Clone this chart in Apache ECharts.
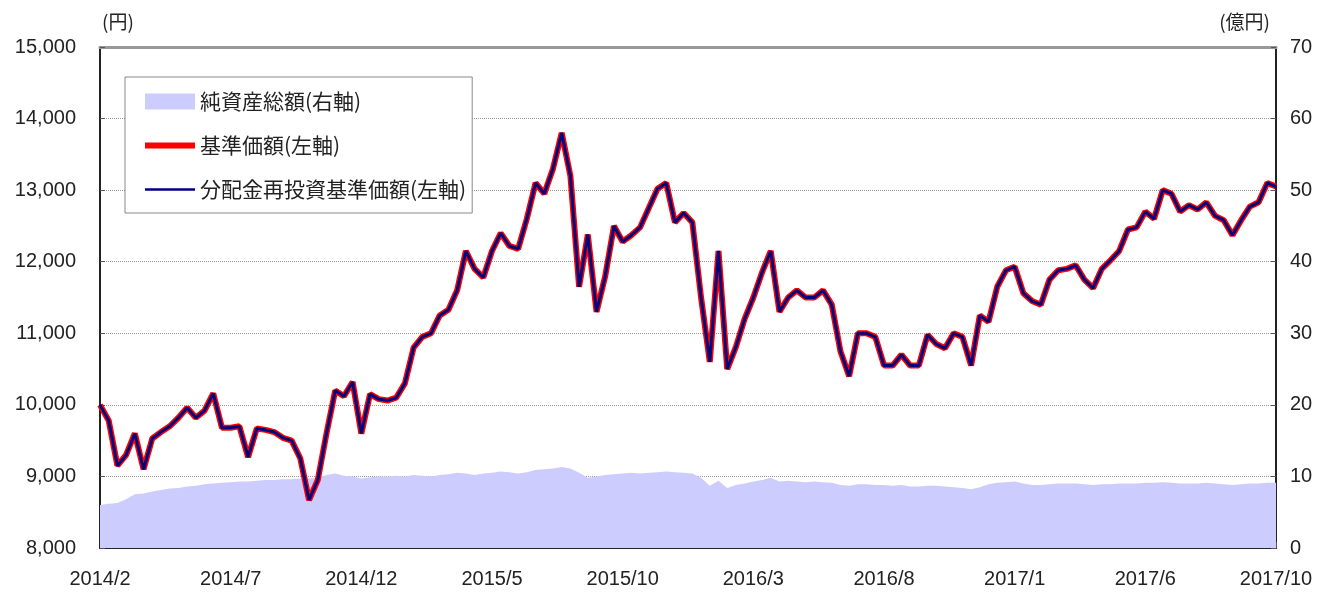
<!DOCTYPE html>
<html>
<head>
<meta charset="utf-8">
<script src="https://cdn.jsdelivr.net/npm/echarts@6/dist/echarts.min.js"></script>
<style>
html, body { margin: 0; padding: 0; background: #fff; }
#chart { width: 1321px; height: 593px; }
</style>
</head>
<body>
<div id="chart"></div>
<script>
// 軸ラベル
const tickLabels = ['2014/2', '2014/7', '2014/12', '2015/5', '2015/10', '2016/3', '2016/8', '2017/1', '2017/6', '2017/10'];
const step = 15; // ラベル間のデータ点数

// 基準価額 (円)
const navPrice = [
    10000, 9780, 9150, 9300, 9600, 9100, 9530, 9620, 9700, 9820,
    9960, 9820, 9920, 10160, 9680, 9680, 9700, 9270, 9670, 9650,
    9620, 9540, 9500, 9250, 8670, 8950, 9600, 10200, 10120, 10320,
    9600, 10150, 10080, 10060, 10100, 10300, 10800, 10950, 11000, 11250,
    11330, 11600, 12150, 11900, 11780, 12150, 12400, 12220, 12180, 12600,
    13100, 12950, 13300, 13800, 13200, 11650, 12380, 11300, 11800, 12500,
    12280, 12370, 12480, 12750, 13020, 13100, 12550, 12680, 12550, 11500,
    10600, 12150, 10500, 10810, 11200, 11500, 11850, 12150, 11300, 11500,
    11600, 11500, 11500, 11600, 11400, 10750, 10400, 11000, 11000, 10950,
    10550, 10550, 10700, 10550, 10550, 10980, 10850, 10790, 11000, 10950,
    10550, 11250, 11160, 11650, 11880, 11930, 11560, 11450, 11400, 11750,
    11880, 11900, 11950, 11750, 11630, 11900, 12020, 12150, 12450, 12480,
    12700, 12600, 13000, 12950, 12700, 12790, 12730, 12830, 12640, 12580,
    12370, 12580, 12770, 12830, 13100, 13050
];

// 分配金再投資基準価額 (円) - 分配なしのため基準価額と同じ
const reinvestPrice = navPrice.slice();

// 純資産総額 (億円)
const netAssets = [
    6.0, 6.2, 6.3, 6.8, 7.5, 7.6, 7.9, 8.1, 8.3, 8.4,
    8.6, 8.7, 8.9, 9.0, 9.1, 9.2, 9.3, 9.3, 9.4, 9.5,
    9.5, 9.6, 9.6, 9.7, 9.7, 9.8, 10.2, 10.4, 10.1, 10.0,
    9.7, 9.9, 10.0, 10.0, 10.1, 10.0, 10.2, 10.1, 10.0, 10.2,
    10.3, 10.5, 10.4, 10.2, 10.4, 10.5, 10.7, 10.6, 10.4, 10.6,
    10.9, 11.0, 11.1, 11.3, 11.1, 10.5, 9.8, 10.0, 10.2, 10.3,
    10.4, 10.5, 10.4, 10.5, 10.6, 10.7, 10.6, 10.5, 10.4, 9.8,
    8.7, 9.4, 8.4, 8.8, 9.0, 9.3, 9.5, 9.8, 9.3, 9.4,
    9.3, 9.2, 9.3, 9.2, 9.1, 8.8, 8.7, 8.9, 8.9, 8.8,
    8.8, 8.7, 8.8, 8.6, 8.6, 8.7, 8.7, 8.6, 8.5, 8.4,
    8.2, 8.5, 8.9, 9.1, 9.2, 9.3, 9.0, 8.8, 8.8, 8.9,
    9.0, 9.0, 9.0, 8.9, 8.8, 8.9, 8.9, 9.0, 9.0, 9.0,
    9.1, 9.1, 9.2, 9.1, 9.0, 9.0, 9.0, 9.1, 9.0, 8.9,
    8.8, 8.9, 9.0, 9.0, 9.1, 9.1
];

// カテゴリ (ラベル位置以外は番号)
const categories = navPrice.map((v, i) => (i % step === 0 ? tickLabels[i / step] : String(i)));

const numFont = "'Liberation Sans', Arial, sans-serif";
const jpFont = "'Noto Sans CJK JP', sans-serif";
const showTick = (i) => i % step === 0;

const chart = echarts.init(document.getElementById('chart'));

const option = {
    animation: false,
    backgroundColor: '#fff',
    grid: { left: 100, right: 45, top: 47, bottom: 45, containLabel: false },
    legend: {
        orient: 'vertical',
        left: 125,
        top: 77,
        padding: [11, 6, 10, 20],
        itemGap: 17,
        itemWidth: 50,
        itemHeight: 16,
        backgroundColor: '#fff',
        borderColor: '#888',
        borderWidth: 1,
        textStyle: { fontFamily: jpFont, fontSize: 21, color: '#222', lineHeight: 27 },
        data: [
            { name: '純資産総額(右軸)', icon: 'rect' },
            { name: '基準価額(左軸)', icon: 'path://M0,0 H50 V6 H0 Z' },
            { name: '分配金再投資基準価額(左軸)', icon: 'path://M0,0 H50 V2.5 H0 Z' }
        ]
    },
    xAxis: [{
        type: 'category',
        data: categories,
        boundaryGap: false,
        axisLine: { lineStyle: { color: '#222', width: 2 } },
        axisTick: { inside: true, length: 6, interval: showTick, lineStyle: { color: '#555' } },
        axisLabel: {
            interval: showTick,
            margin: 21,
            fontFamily: numFont,
            fontSize: 20,
            color: '#222'
        },
        splitLine: { show: false }
    }, {
        // 上枠
        type: 'category',
        position: 'top',
        data: categories,
        boundaryGap: false,
        axisLine: { lineStyle: { color: '#999', width: 3 } },
        axisTick: { show: false },
        axisLabel: { show: false }
    }],
    yAxis: [{
        type: 'value',
        min: 8000,
        max: 15000,
        interval: 1000,
        name: '(円)',
        nameLocation: 'end',
        nameGap: 16,
        nameTextStyle: { fontFamily: jpFont, fontSize: 19, color: '#222', align: 'left', padding: [0, 0, 0, 2] },
        axisLine: { show: true, lineStyle: { color: '#222', width: 2 } },
        axisTick: { show: true, inside: true, length: 5, lineStyle: { color: '#555' } },
        axisLabel: {
            margin: 24,
            fontFamily: numFont,
            fontSize: 20,
            color: '#222',
            formatter: (v) => v.toLocaleString('en-US')
        },
        splitLine: { lineStyle: { color: '#999', type: 'dotted', width: 1 } }
    }, {
        type: 'value',
        min: 0,
        max: 70,
        interval: 10,
        name: '(億円)',
        nameLocation: 'end',
        nameGap: 16,
        nameTextStyle: { fontFamily: jpFont, fontSize: 19, color: '#222', align: 'right', padding: [0, 6, 0, 0] },
        axisLine: { show: true, lineStyle: { color: '#222', width: 2 } },
        axisTick: { show: true, inside: true, length: 5, lineStyle: { color: '#555' } },
        axisLabel: { margin: 14, fontFamily: numFont, fontSize: 20, color: '#222' },
        splitLine: { show: false }
    }],
    series: [{
        name: '純資産総額(右軸)',
        type: 'line',
        yAxisIndex: 1,
        data: netAssets,
        symbol: 'none',
        itemStyle: { color: '#ccccff' },
        lineStyle: { width: 0, color: '#ccccff' },
        areaStyle: { color: '#ccccff', opacity: 1 }
    }, {
        name: '基準価額(左軸)',
        type: 'line',
        yAxisIndex: 0,
        data: navPrice,
        symbol: 'none',
        itemStyle: { color: '#ff0000' },
        lineStyle: { width: 6, color: '#ff0000' }
    }, {
        name: '分配金再投資基準価額(左軸)',
        type: 'line',
        yAxisIndex: 0,
        data: reinvestPrice,
        symbol: 'none',
        itemStyle: { color: '#000080' },
        lineStyle: { width: 3, color: '#000080' }
    }]
};

chart.setOption(option);
</script>
</body>
</html>
